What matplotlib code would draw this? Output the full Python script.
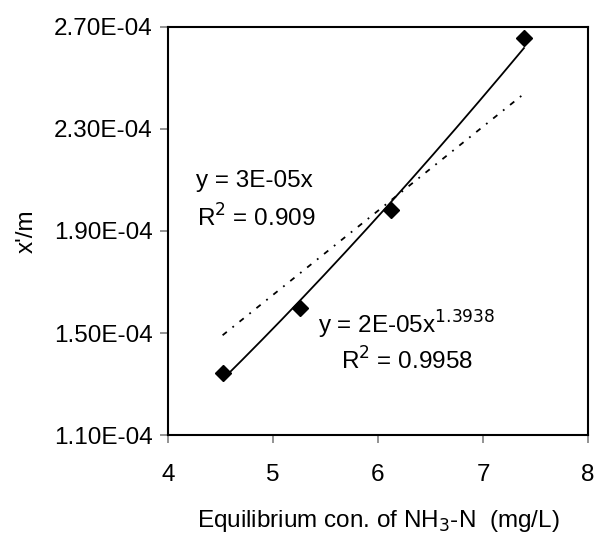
import numpy as np
import matplotlib.pyplot as plt

plt.rcParams['font.family'] = ['Liberation Sans', 'DejaVu Sans']

# data
conc = [4.52, 5.26, 6.12, 7.39]
xm = [1.343e-4, 1.598e-4, 1.982e-4, 2.657e-4]
x_ticks = [4, 5, 6, 7, 8]
y_ticks = [1.10e-4, 1.50e-4, 1.90e-4, 2.30e-4, 2.70e-4]

x = np.array(conc)
y = np.array(xm)

# power trendline y = a x^b
b, ln_a = np.polyfit(np.log(x), np.log(y), 1)
xs = np.linspace(x.min(), x.max(), 200)
y_pow = np.exp(ln_a) * xs ** b

# linear trendline through origin
k = np.sum(x * y) / np.sum(x * x)
y_lin = k * xs

fs = 17.5

fig = plt.figure(figsize=(5.95, 5.33), dpi=100)
ax = fig.add_axes([168 / 595, 1 - 435 / 533, 420 / 595, 408 / 533])

ax.plot(xs, y_lin, color='black', lw=1.3, linestyle=(0, (3, 4, 1, 4)))
ax.plot(xs, y_pow, color='black', lw=1.3)
ax.plot(x, y, linestyle='none', marker='D', color='black', markersize=8.5)

ax.set_xlim(4, 8)
ax.set_ylim(1.10e-4, 2.70e-4)
ax.set_xticks(x_ticks)
ax.set_yticks(y_ticks)
ax.set_yticklabels(['%.2fE-%02d' % (v * 1e4, 4) for v in y_ticks])
ax.tick_params(direction='out', length=6, width=1.2, color='#808080',
               labelsize=fs, pad=5)
ax.tick_params(axis='x', pad=15)
for s in ax.spines.values():
    s.set_linewidth(1.5)

ax.set_xlabel('Equilibrium con. of NH$_3$-N  (mg/L)', fontsize=fs, labelpad=16)
ax.set_ylabel("x'/m", fontsize=fs, labelpad=12)

ax.text(4.27, 2.095e-4, 'y = 3E-05x', fontsize=fs, va='center')
ax.text(4.28, 1.95e-4, 'R$^2$ = 0.909', fontsize=fs, va='center')
ax.text(5.43, 1.53e-4, 'y = 2E-05x$^{1.3938}$', fontsize=fs, va='center')
ax.text(5.65, 1.39e-4, 'R$^2$ = 0.9958', fontsize=fs, va='center')

fig.savefig('out.png', dpi=100)
